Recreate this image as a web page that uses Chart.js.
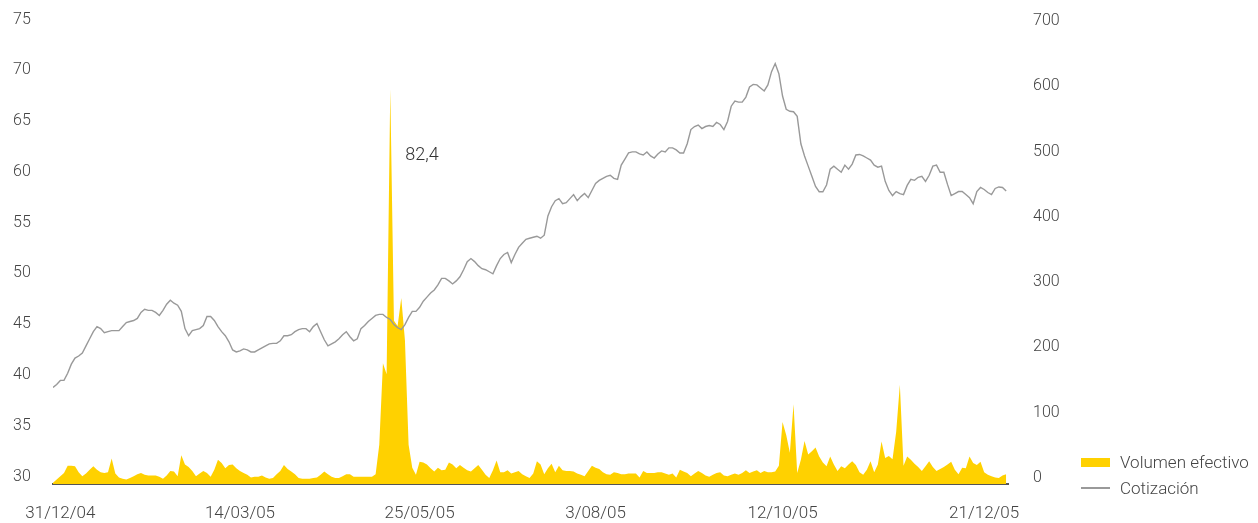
<!DOCTYPE html>
<html>
<head>
<meta charset="utf-8">
<script src="https://cdn.jsdelivr.net/npm/chart.js@4.4.1/dist/chart.umd.min.js"></script>
<style>
  html, body { margin: 0; padding: 0; background: #fff; }
  #wrap { position: relative; width: 1258px; height: 523px; }
  #legend { position: absolute; left: 1081px; top: 449px; font-family: Roboto, "Noto Sans", sans-serif; font-weight: 300; font-size: 17px; color: #444; }
  .item { height: 26px; display: flex; align-items: center; }
  .swatch { width: 29px; margin-right: 10px; }
</style>
</head>
<body>
<div id="wrap">
  <canvas id="chart" width="1258" height="523"></canvas>
  <div id="legend">
    <div class="item"><span class="swatch" style="height:9px;background:#FFD100"></span>Volumen efectivo</div>
    <div class="item"><span class="swatch" style="height:2px;background:#999"></span>Cotización</div>
  </div>
</div>
<script>
// Cotización y volumen efectivo, sesiones 31/12/04 - 30/12/05

// Statics
var tickIndex = [2, 51, 100, 148, 199, 254];
var tickLabels = ['31/12/04', '14/03/05', '25/05/05', '3/08/05', '12/10/05', '21/12/05'];

// cotización (eje izquierdo)
var price = [
    39.5, 39.8, 40.2, 40.2, 40.9, 41.8, 42.4, 42.6, 42.9, 43.6,
    44.3, 45.0, 45.5, 45.3, 44.9, 45.0, 45.1, 45.1, 45.1, 45.5,
    45.9, 46.0, 46.1, 46.3, 46.9, 47.2, 47.1, 47.1, 46.9, 46.6,
    47.1, 47.7, 48.1, 47.8, 47.6, 47.0, 45.3, 44.6, 45.1, 45.2,
    45.3, 45.6, 46.5, 46.5, 46.1, 45.5, 45.0, 44.6, 44.0, 43.2,
    43.0, 43.1, 43.3, 43.2, 43.0, 43.0, 43.2, 43.4, 43.6, 43.8,
    43.85, 43.85, 44.1, 44.6, 44.6, 44.7, 45.0, 45.2, 45.3, 45.3,
    45.0, 45.5, 45.8, 45.0, 44.2, 43.6, 43.8, 44.0, 44.3, 44.7,
    45.0, 44.5, 44.1, 44.3, 45.3, 45.6, 46.0, 46.3, 46.6, 46.7,
    46.7, 46.4, 46.2, 45.7, 45.4, 45.2, 45.7, 46.4, 47.0, 47.0,
    47.4, 48.0, 48.4, 48.8, 49.1, 49.6, 50.25, 50.25, 50.0, 49.7,
    50.0, 50.4, 51.1, 51.9, 52.2, 51.9, 51.5, 51.2, 51.1, 50.9,
    50.7, 51.5, 52.2, 52.6, 52.8, 51.8, 52.6, 53.3, 53.7, 54.1,
    54.2, 54.3, 54.4, 54.2, 54.5, 56.4, 57.3, 57.9, 58.1, 57.6,
    57.7, 58.1, 58.5, 57.9, 58.3, 58.6, 58.2, 58.9, 59.6, 59.9,
    60.1, 60.3, 60.4, 60.1, 60.0, 61.4, 62.0, 62.6, 62.7, 62.7,
    62.5, 62.4, 62.7, 62.3, 62.1, 62.5, 62.8, 62.7, 63.1, 63.1,
    62.9, 62.6, 62.6, 63.5, 64.9, 65.2, 65.35, 65.0, 65.2, 65.3,
    65.2, 65.6, 65.4, 64.9, 65.7, 67.2, 67.7, 67.6, 67.6, 68.1,
    69.1, 69.35, 69.3, 69.0, 68.7, 69.3, 70.6, 71.4, 70.4, 68.2,
    66.9, 66.7, 66.66, 66.2, 63.5, 62.3, 61.3, 60.3, 59.3, 58.78,
    58.78, 59.44, 61.0, 61.3, 61.0, 60.7, 61.4, 61.0, 61.5, 62.4,
    62.45, 62.3, 62.1, 61.9, 61.4, 61.2, 61.3, 59.8, 58.9, 58.4,
    58.8, 58.6, 58.5, 59.4, 60.0, 59.9, 60.2, 60.3, 59.8, 60.4,
    61.3, 61.4, 60.7, 60.7, 59.5, 58.4, 58.6, 58.8, 58.8, 58.5,
    58.2, 57.6, 58.8, 59.2, 59.0, 58.7, 58.5, 59.1, 59.25, 59.2,
    58.85
];

// volumen efectivo (eje derecho)
var volume = [
    2, 7, 12, 17, 28, 28, 27, 18, 12, 16,
    22, 27, 22, 18, 17, 18, 39, 16, 10, 8,
    7, 9, 12, 15, 17, 14, 13, 13, 13, 11,
    8, 13, 20, 19, 12, 44, 30, 26, 20, 12,
    16, 20, 17, 11, 22, 37, 32, 24, 29, 30,
    24, 20, 17, 14, 10, 11, 11, 13, 10, 8,
    9, 15, 20, 29, 23, 19, 15, 9, 8, 8,
    8, 9, 10, 14, 19, 15, 11, 9, 9, 12,
    15, 15, 11, 11, 11, 11, 11, 11, 15, 60,
    185, 168, 605, 250, 242, 285, 220, 60, 25, 14,
    34, 33, 30, 24, 19, 25, 21, 22, 33, 30,
    24, 29, 25, 21, 19, 24, 29, 22, 14, 9,
    21, 36, 18, 18, 21, 16, 18, 20, 15, 12,
    9, 16, 35, 30, 15, 24, 31, 18, 28, 21,
    20, 20, 19, 16, 14, 12, 20, 28, 25, 23,
    18, 15, 14, 18, 17, 15, 15, 16, 16, 16,
    10, 20, 17, 17, 17, 18, 18, 16, 14, 16,
    10, 22, 19, 17, 12, 16, 20, 17, 13, 11,
    14, 17, 18, 13, 12, 14, 16, 14, 17, 21,
    17, 19, 21, 17, 20, 18, 18, 19, 28, 95,
    75, 48, 122, 17, 37, 66, 45, 50, 56, 42,
    33, 27, 42, 30, 20, 27, 24, 30, 35, 29,
    18, 14, 22, 35, 18, 30, 65, 40, 43, 38,
    80, 152, 28, 42, 37, 31, 26, 20, 27, 35,
    26, 20, 23, 26, 30, 34, 22, 15, 25, 24,
    42, 32, 29, 34, 18, 14, 12, 10, 9, 13,
    15
];

var peakLabel = '82,4';

var FONT = { family: 'Roboto, "Noto Sans", sans-serif', weight: 300 };
var TEXT_COLOR = '#444';

function toPoints(values) {
    return values.map(function (v, i) { return { x: i, y: v }; });
}

// writes the figure next to the biggest volume spike
var peakNote = {
    id: 'peakNote',
    afterDatasetsDraw: function (chart) {
        var peak = volume.indexOf(Math.max.apply(null, volume));
        var x = chart.scales.x.getPixelForValue(peak);
        var y = chart.scales.y2.getPixelForValue(volume[peak]);
        var ctx = chart.ctx;
        ctx.save();
        ctx.font = '300 18px ' + FONT.family;
        ctx.fillStyle = '#333';
        ctx.textBaseline = 'middle';
        ctx.fillText(peakLabel, x + 15, y + 66);
        ctx.restore();
    }
};

new Chart(document.getElementById('chart'), {
    type: 'line',
    data: {
        datasets: [{
            label: 'Cotización',
            data: toPoints(price),
            yAxisID: 'y',
            borderColor: '#999',
            borderWidth: 1.4,
            pointRadius: 0,
            fill: false,
            order: 1
        }, {
            label: 'Volumen efectivo',
            data: toPoints(volume),
            yAxisID: 'y2',
            backgroundColor: '#FFD100',
            borderWidth: 0,
            pointRadius: 0,
            fill: 'origin',
            order: 2
        }]
    },
    options: {
        responsive: false,
        animation: false,
        devicePixelRatio: 1,
        layout: { padding: { left: 13, right: 190, top: 27, bottom: 0 } },
        plugins: {
            legend: { display: false },
            tooltip: { enabled: false }
        },
        scales: {
            x: {
                type: 'linear',
                min: 0,
                max: 260.5,
                grid: { display: false },
                border: { display: true, color: '#555', width: 2 },
                afterBuildTicks: function (scale) {
                    scale.ticks = tickIndex.map(function (v) { return { value: v }; });
                },
                afterFit: function (scale) { scale.height = 39; },
                ticks: {
                    autoSkip: false,
                    maxRotation: 0,
                    padding: 12,
                    color: TEXT_COLOR,
                    font: { family: FONT.family, weight: FONT.weight, size: 17 },
                    callback: function (value) { return tickLabels[tickIndex.indexOf(value)]; }
                }
            },
            y: {
                position: 'left',
                min: 30,
                max: 75,
                grid: { display: false },
                border: { display: false },
                afterFit: function (scale) { scale.width = 40; },
                ticks: {
                    stepSize: 5,
                    padding: 0,
                    crossAlign: 'far',
                    labelOffset: -7.5,
                    color: TEXT_COLOR,
                    font: { family: FONT.family, weight: FONT.weight, size: 16 }
                }
            },
            y2: {
                position: 'right',
                min: 0,
                max: 700,
                grid: { display: false },
                border: { display: false },
                afterFit: function (scale) { scale.width = 60; },
                ticks: {
                    stepSize: 100,
                    padding: 17,
                    labelOffset: -6,
                    color: TEXT_COLOR,
                    font: { family: FONT.family, weight: FONT.weight, size: 16 }
                }
            }
        }
    },
    plugins: [peakNote]
});
</script>
</body>
</html>
